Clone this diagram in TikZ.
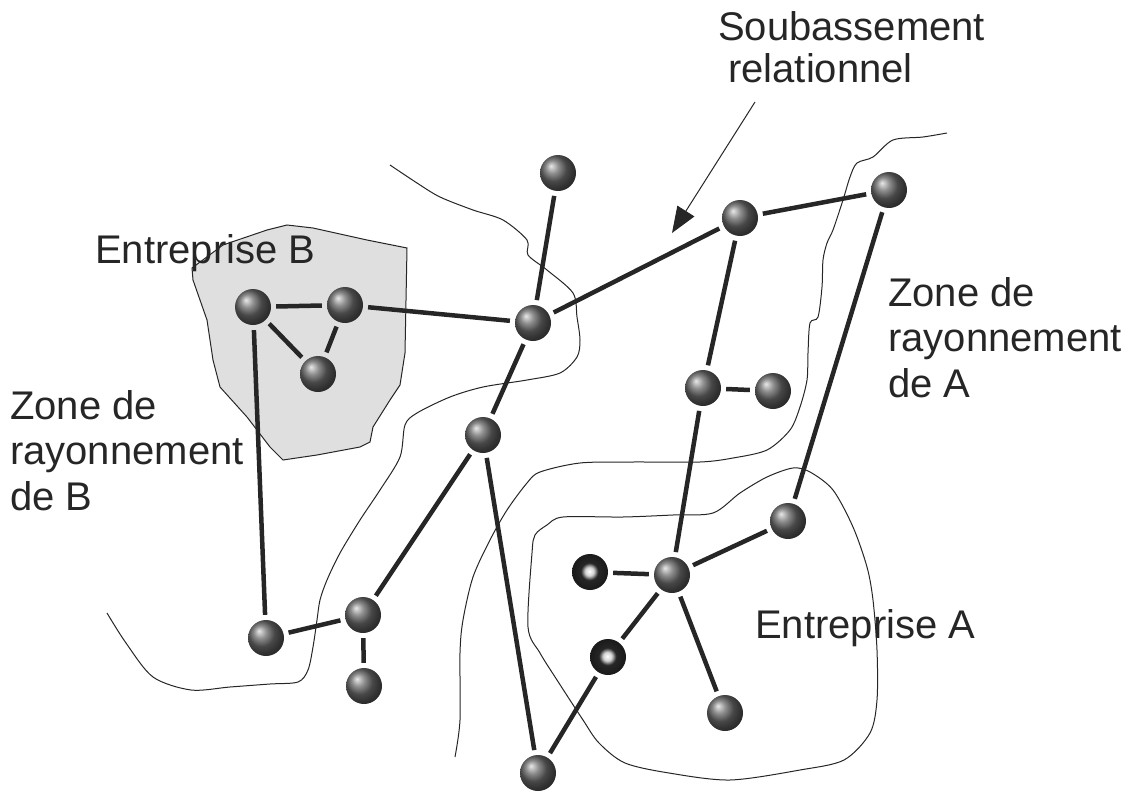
\documentclass[tikz,border=0pt]{standalone}
\usepackage{fontspec}
\setmainfont{Liberation Sans}
\usetikzlibrary{arrows.meta}
\pgfdeclareradialshading{darkball}{\pgfpoint{-1bp}{1bp}}{color(0bp)=(white); color(6bp)=(gray!35); color(12bp)=(black!85); color(25bp)=(black!90); color(50bp)=(black)}

\begin{document}
\begin{tikzpicture}[x=1pt, y=-1pt,
    ball/.style={circle, minimum size=36pt, inner sep=0pt, shading=ball, ball color=gray!80!black},
    dball/.style={circle, minimum size=36pt, inner sep=0pt, shading=darkball},
    link/.style={line width=4.5pt, black!85, shorten <=5pt, shorten >=5pt},
    zone/.style={line width=1pt, black!85},
    lbl/.style={font=\fontsize{40}{45.5}\selectfont, text=black!85, inner sep=0pt, align=left}]
    \useasboundingbox (0,0) rectangle (1136,795);

    \filldraw[zone, fill=gray!25] (192,268) -- (223,245) -- (267,230) -- (287,225) -- (313,228) -- (367,240) -- (407,248) -- (405,353) -- (400,385) -- (390,400) -- (373,427) -- (370,442) -- (360,447) -- (317,455) -- (283,460) -- (270,447) -- (247,417) -- (220,387) -- (213,360) -- (207,320) -- (193,280) -- cycle;
    \draw[zone] plot[smooth, tension=0.5] coordinates {(390,165) (417,183) (440,197) (473,210) (503,220) (527,240) (528,255) (547,270) (573,293) (577,317) (580,340) (577,357) (560,373) (527,380) (483,387) (450,397) (417,413) (405,425) (400,457) (380,490) (360,520) (340,553) (327,580) (320,600) (317,620) (313,647) (308,670) (298,682) (270,684) (230,687) (191,690) (153,677) (126,643) (107,613)};
    \draw[zone] plot[smooth, tension=0.5] coordinates {(947,133) (923,137) (893,140) (873,157) (857,163) (850,177) (843,200) (833,230) (827,243) (823,260) (822,287) (818,317) (810,323) (808,353) (807,380) (800,407) (790,430) (767,450) (733,458) (700,462) (633,462) (580,463) (540,472) (527,483) (507,510) (490,540) (473,577) (463,620) (460,653) (460,720) (455,757)};
    \draw[zone] plot[smooth cycle, tension=0.5] coordinates {(563,517) (623,517) (673,515) (713,513) (740,493) (767,477) (793,468) (810,472) (833,490) (853,527) (867,567) (873,600) (877,650) (877,700) (870,733) (844,760) (800,770) (730,780) (669,773) (625,763) (599,743) (583,720) (557,680) (540,653) (528,627) (532,553) (535,535) (547,525)};

    \node[ball] (t) at (558,173) {};
    \node[ball] (c) at (533,323) {};
    \node[ball] (r) at (740,218) {};
    \node[ball] (fr) at (889,190) {};
    \node[ball] (b1) at (253,307) {};
    \node[ball] (b2) at (345,305) {};
    \node[ball] (b3) at (318,374) {};
    \node[ball] (m1) at (703,388) {};
    \node[ball] (m2) at (773,391) {};
    \node[ball] (d) at (483,435) {};
    \node[ball] (ar) at (788,521) {};
    \node[ball] (ac) at (672,575) {};
    \node[dball] (al) at (590,572) {};
    \node[dball] (all) at (608,657) {};
    \node[ball] (ab) at (725,713) {};
    \node[ball] (bot) at (538,773) {};
    \node[ball] (bl) at (266,638) {};
    \node[ball] (e) at (363,615) {};
    \node[ball] (eb) at (364,686) {};

    \draw[link] (t) -- (c);
    \draw[link] (b1) -- (b2);
    \draw[link] (b1) -- (b3);
    \draw[link] (b2) -- (b3);
    \draw[link] (b2) -- (c);
    \draw[link] (c) -- (r);
    \draw[link] (r) -- (fr);
    \draw[link] (r) -- (m1);
    \draw[link] (m1) -- (m2);
    \draw[link] (m1) -- (ac);
    \draw[link] (fr) -- (ar);
    \draw[link] (ar) -- (ac);
    \draw[link] (al) -- (ac);
    \draw[link] (ac) -- (all);
    \draw[link] (ac) -- (ab);
    \draw[link] (all) -- (bot);
    \draw[link] (c) -- (d);
    \draw[link] (d) -- (e);
    \draw[link] (d) -- (bot);
    \draw[link] (b1) -- (bl);
    \draw[link] (bl) -- (e);
    \draw[link] (e) -- (eb);

    \coordinate (from) at (755,102);
    \coordinate (tip) at (672,233);
    \draw[line width=1pt, black!85, -{Triangle[length=26pt, width=20pt]}] (from) -- (tip);

    \node[lbl, font=\fontsize{40}{42}\selectfont, anchor=base west] (soub) at (718,82) {Soubassement\\\hspace*{10pt}relationnel};
    \node[lbl, anchor=base west] (entb) at (95,263) {Entreprise B};
    \node[lbl, anchor=base west] (enta) at (755,638) {Entreprise A};
    \node[lbl, anchor=base west] (zonea) at (888,397) {Zone de\\rayonnement\\de A};
    \node[lbl, anchor=base west] (zoneb) at (10,510) {Zone de\\rayonnement\\de B};
\end{tikzpicture}
\end{document}
